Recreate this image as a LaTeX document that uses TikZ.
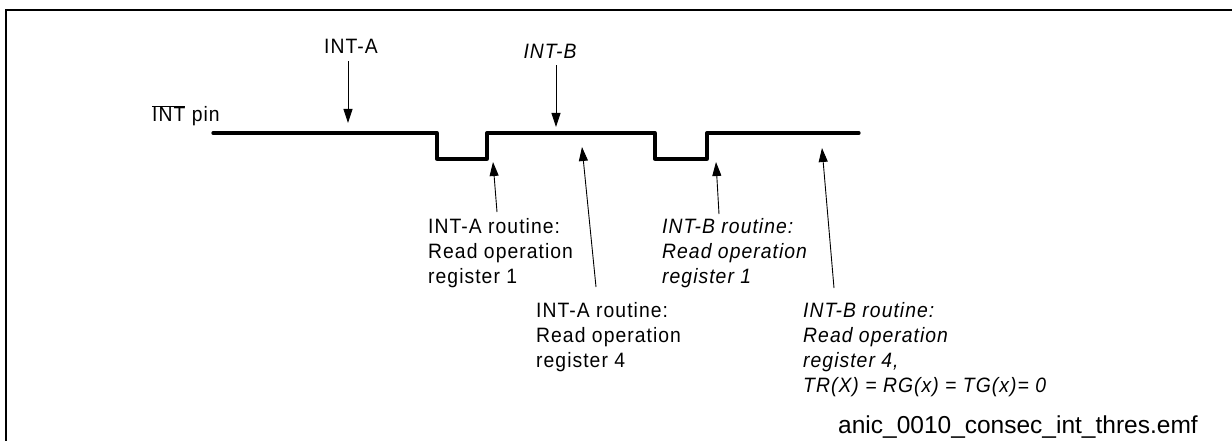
\documentclass[tikz,border=0pt]{standalone}
\usepackage{fontspec}
\setmainfont{Liberation Sans}
\newfontfamily\spfont[LetterSpace=5,FakeStretch=0.93]{Liberation Sans}
\usetikzlibrary{arrows.meta}
\begin{document}
\begin{tikzpicture}[x=1pt,y=-1pt,
  lbl/.style={font=\spfont\fontsize{20.8}{25}\selectfont, inner sep=0pt, align=left, anchor=north west},
  ilbl/.style={lbl, font=\spfont\itshape\fontsize{20.8}{25}\selectfont},
  arr/.style={line width=0.9pt, -{Triangle[length=14pt,width=9pt]}},
  sig/.style={line width=3.3pt, line join=round, line cap=round},
  frame/.style={line width=1.5pt}]
\useasboundingbox (0,0) rectangle (1232,441);
% frame
\draw[frame] (6,441) -- (6,10) -- (1232,10);
% signal
\draw[sig] (213,133) -- (437,133) -- (437,159) -- (487,159) -- (487,133)
  -- (655,133) -- (655,159) -- (707,159) -- (707,133) -- (859,133);
% labels
\node[lbl, anchor=base west] (pin) at (152,122) {$\overline{\mbox{INT}}$ pin};
\node[lbl, anchor=base] (inta) at (351,54) {INT-A};
\node[ilbl, anchor=base] (intb) at (550,59) {INT-B};
\node[lbl] (ra1) at (428,218) {INT-A routine:\\Read operation\\register 1};
\node[lbl] (ra4) at (536,302) {INT-A routine:\\Read operation\\register 4};
\node[ilbl] (rb1) at (662,218) {INT-B routine:\\Read operation\\register 1};
\node[ilbl] (rb4) at (803,302) {INT-B routine:\\Read operation\\register 4,\\TR(X) = RG(x) = TG(x)= 0};
\node[font=\fontsize{24.5}{28}\selectfont, inner sep=0pt, anchor=base west] (fname) at (838,433) {anic\_0010\_consec\_int\_thres.emf};
% arrows
\coordinate (tA) at (348,123);
\coordinate (tB) at (556,127);
\coordinate (u1) at (493,162);
\coordinate (u2) at (582,147);
\coordinate (u3) at (716,162);
\coordinate (u4) at (822,148);
\draw[arr] ([yshift=-7pt]inta.south -| tA) -- (tA);
\draw[arr] ([yshift=-6pt]intb.south -| tB) -- (tB);
\draw[arr] ([shift={(69pt,6pt)}]ra1.north west) -- (u1);
\draw[arr] ([shift={(60pt,15pt)}]ra4.north west) -- (u2);
\draw[arr] ([shift={(57pt,4pt)}]rb1.north west) -- (u3);
\draw[arr] ([shift={(31pt,14pt)}]rb4.north west) -- (u4);
\end{tikzpicture}
\end{document}
